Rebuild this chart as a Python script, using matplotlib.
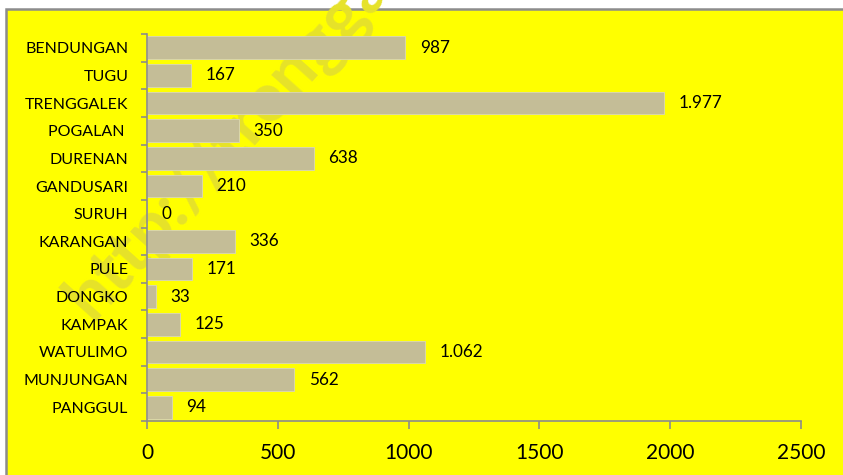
import matplotlib.pyplot as plt
from matplotlib.patches import Rectangle

plt.rcParams['font.family'] = ['Lato', 'DejaVu Sans']

# data
kecamatan = ['BENDUNGAN', 'TUGU', 'TRENGGALEK', 'POGALAN ', 'DURENAN', 'GANDUSARI',
             'SURUH', 'KARANGAN', 'PULE', 'DONGKO', 'KAMPAK', 'WATULIMO',
             'MUNJUNGAN', 'PANGGUL']
jumlah = [987, 167, 1977, 350, 638, 210, 0, 336, 171, 33, 125, 1062, 562, 94]
xticks = [0, 500, 1000, 1500, 2000, 2500]


def fmt(v):
    # thousands separator with a dot
    return f'{v:,}'.replace(',', '.')


fig = plt.figure(figsize=(8.43, 4.75), dpi=100)
fig.patch.set_facecolor('white')
bg = Rectangle((6 / 843, -0.01), 1.0, (475 - 9) / 475 + 0.01,
               transform=fig.transFigure, facecolor='#FFFF00',
               edgecolor='#8c8c8c', linewidth=1.8, zorder=-10)
fig.add_artist(bg)

# faint watermark
fig.text(92 / 843, 1 - 322 / 475, 'http://trenggalekkab.go.id', rotation=48,
         rotation_mode='anchor', fontsize=50, fontweight='bold', color='#E6E22A',
         ha='left', va='baseline', zorder=-5)

ax = fig.add_axes([147 / 843, 54 / 475, (801 - 147) / 843, (421 - 34) / 475])
ax.set_facecolor('none')

y = list(range(len(kecamatan)))
ax.barh(y, jumlah, height=0.82, color='#C4BD97', edgecolor='#D9D6B8', linewidth=0.6)
for yi, v in zip(y, jumlah):
    ax.annotate(fmt(v), (v, yi), xytext=(10.5, 0), textcoords='offset points',
                va='center', ha='left', fontsize=12.3)

ax.set_ylim(len(kecamatan) - 0.5, -0.5)
ax.set_xlim(0, 2500)
ax.set_yticks(y)
ax.set_yticklabels(kecamatan, fontsize=11.5)
ax.set_yticks([i - 0.5 for i in range(len(kecamatan) + 1)], minor=True)
ax.tick_params(axis='y', which='major', length=0, pad=13.5)
ax.tick_params(axis='y', which='minor', length=4.5, color='#8c8c8c', width=1.2)
ax.set_xticks(xticks)
ax.set_xticklabels([str(t) for t in xticks], fontsize=15)
ax.tick_params(axis='x', length=6, color='#8c8c8c', width=1.2, pad=10)

for s in ['top', 'right']:
    ax.spines[s].set_visible(False)
for s in ['left', 'bottom']:
    ax.spines[s].set_color('#8c8c8c')
    ax.spines[s].set_linewidth(1.2)

fig.savefig('out.png', dpi=100)
